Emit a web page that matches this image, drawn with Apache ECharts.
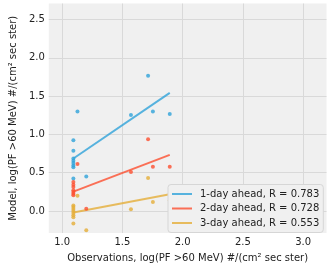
<!DOCTYPE html>
<html><head><meta charset="utf-8">
<script src="https://cdn.jsdelivr.net/npm/echarts@6/dist/echarts.min.js"></script>
<style>html,body{margin:0;padding:0;background:#fff}#c{width:332px;height:268px}</style>
</head><body><div id="c"></div>
<script>
var xTicks = [1.0, 1.5, 2.0, 2.5, 3.0];
var yTicks = [0.0, 0.5, 1.0, 1.5, 2.0, 2.5];
var seriesNames = ['1-day ahead, R = 0.783', '2-day ahead, R = 0.728', '3-day ahead, R = 0.553'];
var colors = ['#30a2da', '#fc4f30', '#e5ae38'];
var day1Points = [[1.093,0.925],[1.093,0.788],[1.093,0.685],[1.093,0.656],[1.093,0.625],[1.093,0.595],[1.093,0.57],[1.093,0.424],
  [1.127,1.298],[1.2,0.45],[1.571,1.254],[1.713,1.765],[1.753,1.298],[1.893,1.267]];
var day2Points = [[1.093,0.377],[1.093,0.342],[1.093,0.312],[1.093,0.27],[1.093,0.248],[1.093,0.226],[1.093,0.206],
  [1.127,0.612],[1.2,0.03],[1.571,0.509],[1.713,0.938],[1.753,0.578],[1.893,0.578]];
var day3Points = [[1.093,0.072],[1.093,0.051],[1.093,0.026],[1.093,0.0],[1.093,-0.026],[1.093,-0.057],[1.093,-0.082],[1.093,-0.163],
  [1.127,0.2],[1.2,-0.253],[1.571,0.021],[1.713,0.432],[1.753,0.116],[1.893,0.136]];
var day1Fit = [[1.093,0.685],[1.893,1.542]];
var day2Fit = [[1.093,0.252],[1.893,0.733]];
var day3Fit = [[1.093,-0.02],[1.893,0.218]];

var chart = echarts.init(document.getElementById('c'), null, {renderer:'canvas'});
var font = 'DejaVu Sans';
var pts = [day1Points, day2Points, day3Points];
var fits = [day1Fit, day2Fit, day3Fit];
var series = [];
for (var i = 0; i < 3; i++) {
  series.push({type:'scatter', data: pts[i], symbolSize: 4, itemStyle:{color: colors[i]}, silent:true, z:3});
}
for (var i = 0; i < 3; i++) {
  series.push({type:'line', name: seriesNames[i], data: fits[i], symbol:'none', lineStyle:{color: colors[i], width:2, opacity:0.8}, itemStyle:{color: colors[i], opacity:0.8}, z:2});
}
chart.setOption({
  animation:false,
  backgroundColor:'#ffffff',
  grid:{left:36, right:5.5, top:3.5, bottom:31.3, show:true, backgroundColor:'#f0f0f0', borderWidth:0},
  xAxis:{type:'value', min:0.889, max:3.194,
    name:'Observations, log(PF >60 MeV) #/(cm\u00b2 sec ster)', nameLocation:'middle', nameGap:20,
    nameTextStyle:{fontFamily:font, fontSize:10, color:'#222'},
    axisLine:{show:false}, axisTick:{show:false, customValues:xTicks},
    axisLabel:{customValues:xTicks, fontFamily:font, fontSize:10, color:'#222', margin:4, formatter:function(v){return v.toFixed(1);}},
    splitLine:{show:true, lineStyle:{color:'#d9d9d9', width:1}}},
  yAxis:{type:'value', min:-0.288, max:2.71,
    name:'Model, log(PF >60 MeV) #/(cm\u00b2 sec ster)', nameLocation:'middle', nameGap:24,
    nameTextStyle:{fontFamily:font, fontSize:10, color:'#222'},
    axisLine:{show:false}, axisTick:{show:false, customValues:yTicks},
    axisLabel:{customValues:yTicks, fontFamily:font, fontSize:10, color:'#222', margin:4, formatter:function(v){return v.toFixed(1);}},
    splitLine:{show:true, lineStyle:{color:'#d9d9d9', width:1}}},
  legend:{orient:'vertical', left:168, top:184.5, width:154, itemWidth:20, itemHeight:2, itemGap:2.5,
    padding:[3.5,4,3.5,4], backgroundColor:'#f0f0f0', borderColor:'#d6d6d6', borderWidth:1, borderRadius:3,
    icon:'rect', textStyle:{fontFamily:font, fontSize:10, color:'#222', lineHeight:12, padding:[0,0,0,3]},
    data: seriesNames},
  series: series
});
</script></body></html>
